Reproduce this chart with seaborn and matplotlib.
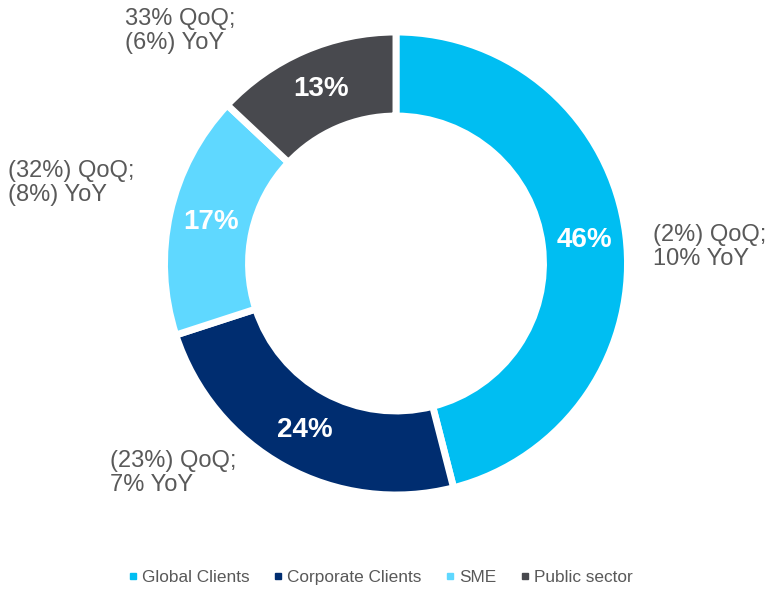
import matplotlib
matplotlib.use("Agg")
import matplotlib.pyplot as plt
from matplotlib.lines import Line2D
import seaborn as sns

# Segment shares of the portfolio
segments = ["Global Clients", "Corporate Clients", "SME", "Public sector"]
shares = [46, 24, 17, 13]
share_labels = ["46%", "24%", "17%", "13%"]
change_notes = ["(2%) QoQ;\n10% YoY", "(23%) QoQ;\n7% YoY",
                "(32%) QoQ;\n(8%) YoY", "33% QoQ;\n(6%) YoY"]

sns.set_style("white")
plt.rcParams["font.family"] = ["Liberation Sans", "DejaVu Sans"]

palette = sns.color_palette(["#00BEF2", "#002D70", "#5FD8FF", "#48494E"])
text_grey = "#595959"

W, H = 778, 590
fig = plt.figure(figsize=(W / 100, H / 100), dpi=100)

# Donut geometry in pixels
cx, cy, R = 396, 263.5, 231.5
ax = fig.add_axes([(cx - R) / W, (H - cy - R) / H, 2 * R / W, 2 * R / H])

wedges, _, autotexts = ax.pie(
    shares,
    colors=palette,
    startangle=90,
    counterclock=False,
    radius=1.0,
    autopct=lambda p: f"{p:.0f}%",
    pctdistance=0.819,
    wedgeprops=dict(width=0.363, edgecolor="white", linewidth=5),
    textprops=dict(color="white", fontsize=20, fontweight="bold"),
)
for t, lab in zip(autotexts, share_labels):
    t.set_text(lab)

ax.set_xlim(-1, 1)
ax.set_ylim(-1, 1)
ax.set_aspect("equal")
ax.axis("off")

# Quarter and year changes next to each segment (pixel positions of left edge / centre line)
note_pos = [(653, 247), (110, 473), (8, 183), (125, 31)]
for note, (px, py) in zip(change_notes, note_pos):
    fig.text(px / W, (H - py) / H, note, ha="left", va="center",
             fontsize=17, color=text_grey, linespacing=1.15)

handles = [Line2D([], [], marker="s", linestyle="", markersize=4,
                  markerfacecolor=c, markeredgecolor=c) for c in palette]
fig.legend(handles, segments, loc="center", ncol=4, frameon=False,
           bbox_to_anchor=(381 / W, (H - 577) / H),
           fontsize=12.4, labelcolor=text_grey, handlelength=0.4,
           handletextpad=0.3, columnspacing=1.48, borderpad=0,
           borderaxespad=0)

fig.savefig("out.png", dpi=100)
